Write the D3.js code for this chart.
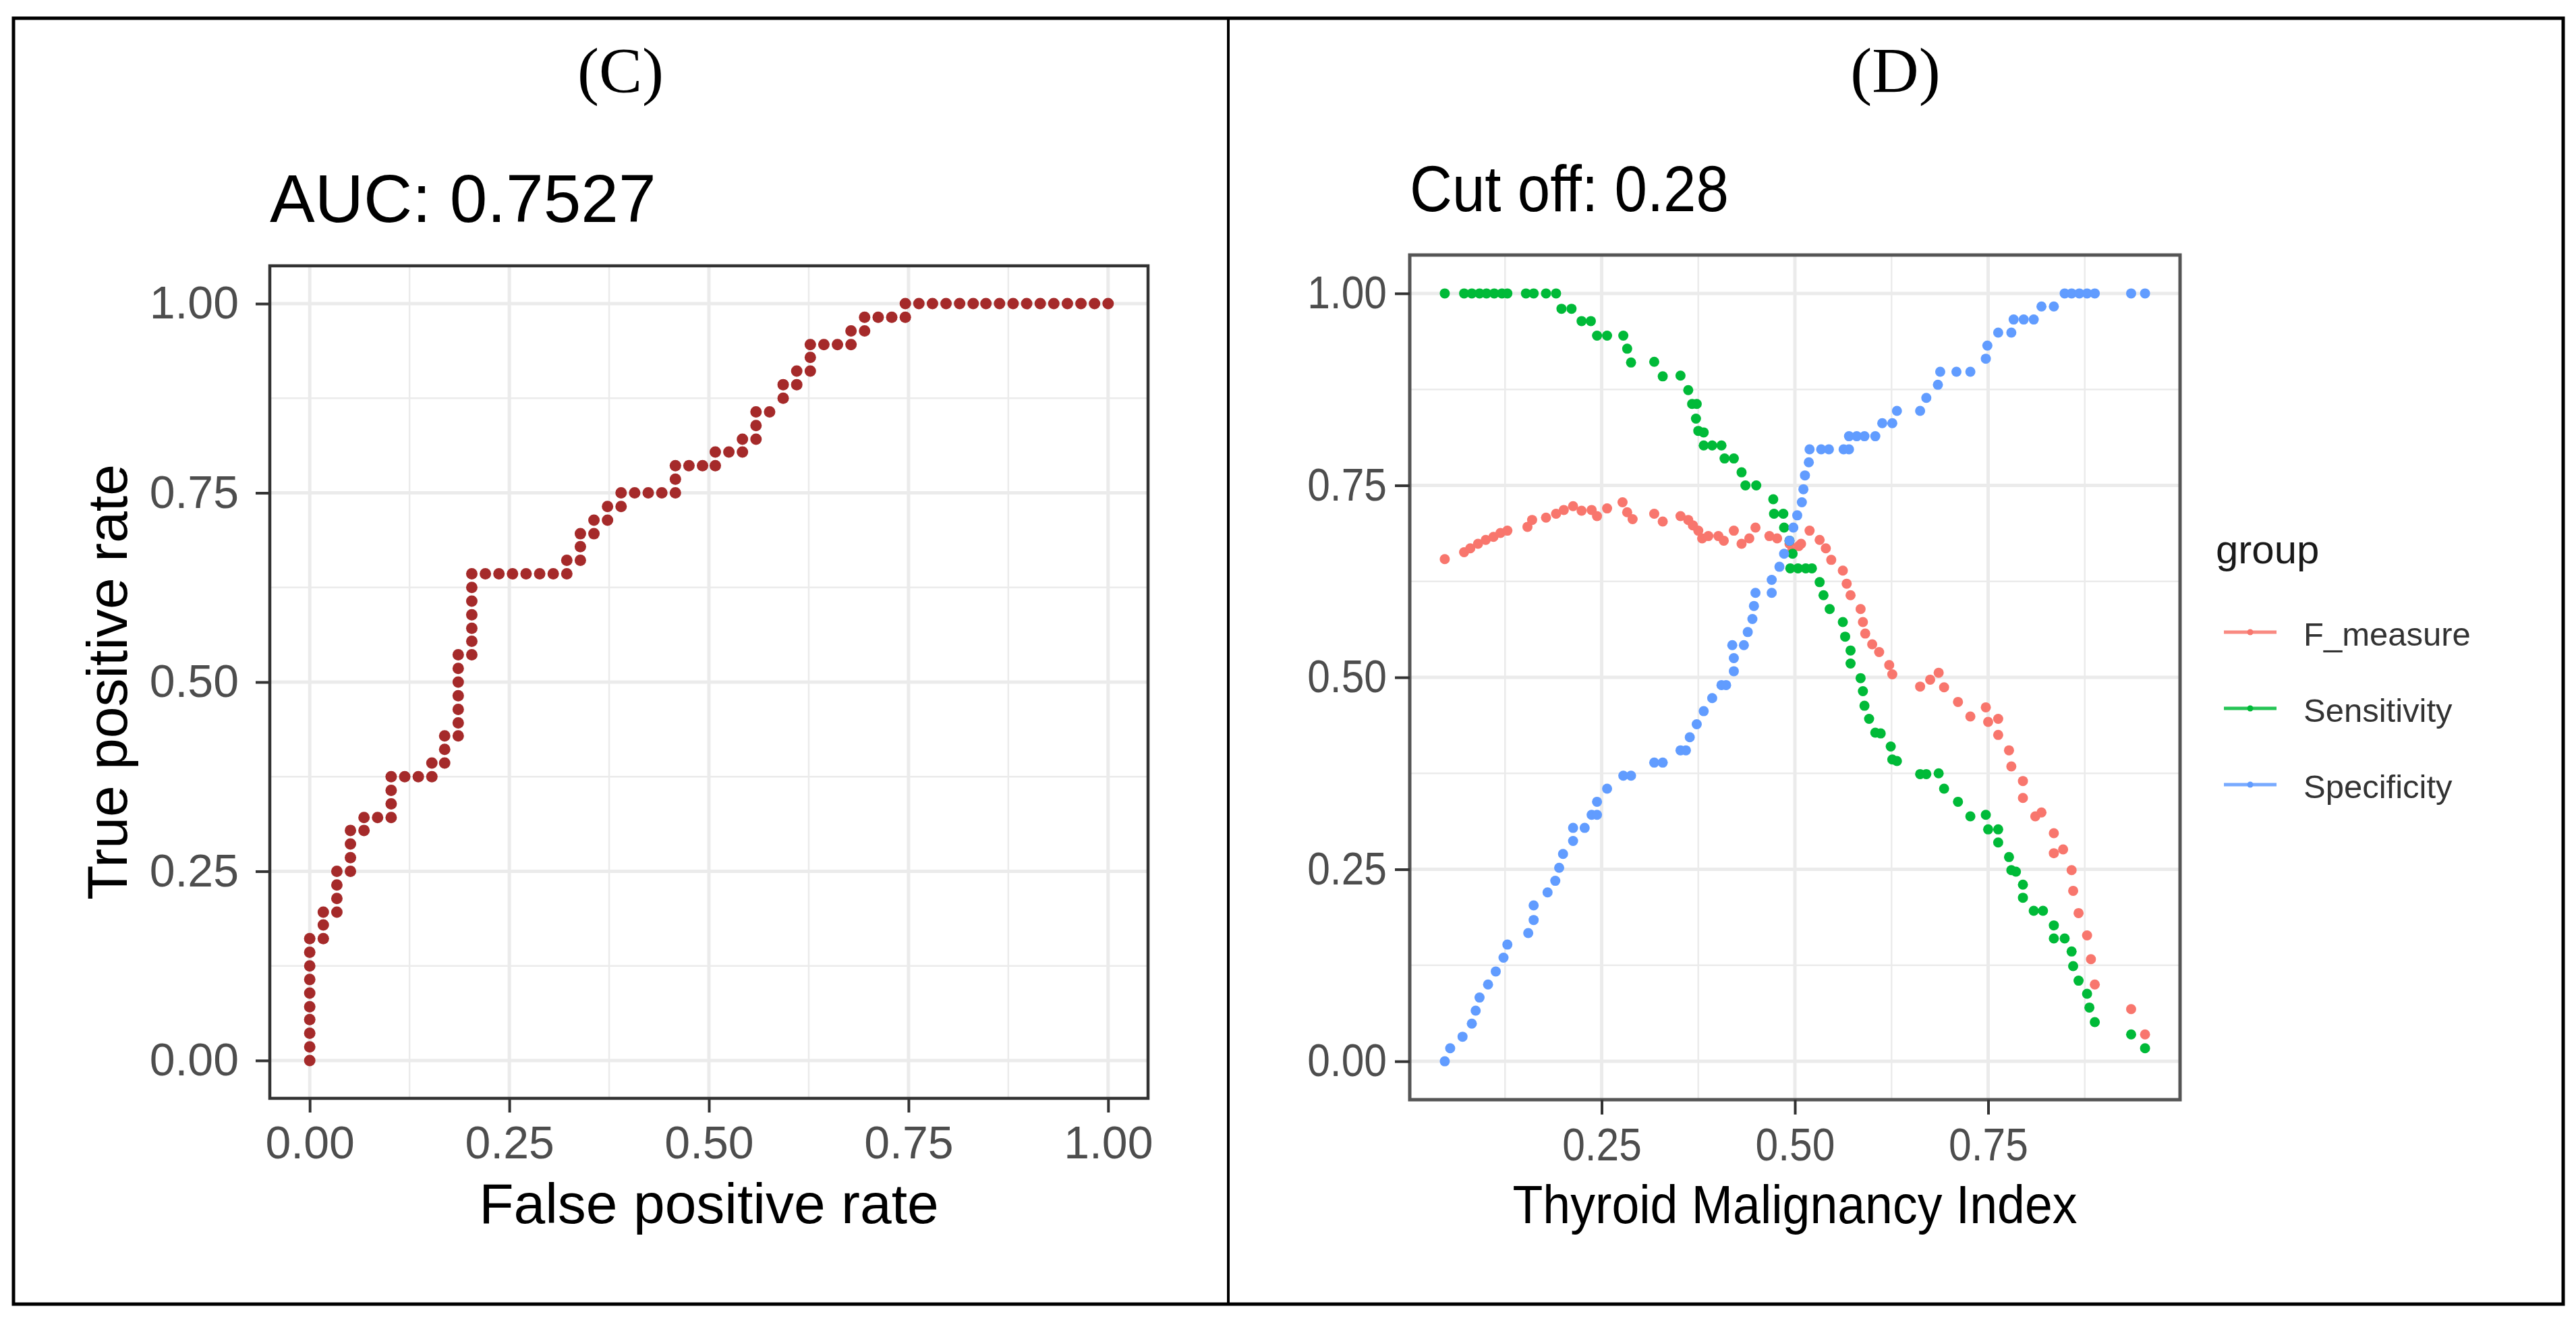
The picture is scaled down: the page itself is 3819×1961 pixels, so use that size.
<!DOCTYPE html>
<html>
<head>
<meta charset="utf-8">
<script src="https://cdn.jsdelivr.net/npm/d3@7"></script>
<style>
  body { margin: 0; background: #fff; }
  text { font-family: "Liberation Sans", Arial, sans-serif; }
</style>
</head>
<body>
<div id="chart"></div>
<script>
// (C) ROC curve points
let rocFpr = [
  0,0,0,0,0,0,0,0,0,0,
  .017,.017,.017,
  .034,.034,.034,.034,
  .051,.051,.051,.051,
  .068,.068,
  .085,
  .102,.102,.102,.102,
  .119,
  .136,
  .153,.153,
  .169,.169,.169,
  .186,.186,.186,.186,.186,.186,.186,
  .203,.203,.203,.203,.203,.203,.203,
  .220,.237,.254,.271,.288,.305,
  .322,.322,
  .339,.339,.339,
  .356,.356,
  .373,.373,
  .390,.390,
  .407,.424,.441,
  .458,.458,.458,
  .475,.492,
  .508,.508,
  .525,
  .542,.542,
  .559,.559,.559,
  .576,
  .593,.593,
  .610,.610,
  .627,.627,.627,
  .644,.661,
  .678,.678,
  .695,.695,
  .712,.729,
  .746,.746,
  .763,.780,.797,.814,.831,.847,.864,.881,.898,.915,.932,.949,.966,.983,1
];
let rocTpr = [
  0,.018,.036,.054,.071,.089,.107,.125,.143,.161,
  .161,.179,.196,
  .196,.214,.232,.25,
  .25,.268,.286,.304,
  .304,.321,
  .321,
  .321,.339,.357,.375,
  .375,
  .375,
  .375,.393,
  .393,.411,.429,
  .429,.446,.464,.482,.5,.518,.536,
  .536,.554,.571,.589,.607,.625,.643,
  .643,.643,.643,.643,.643,.643,
  .643,.661,
  .661,.679,.696,
  .696,.714,
  .714,.732,
  .732,.75,
  .75,.75,.75,
  .75,.768,.786,
  .786,.786,
  .786,.804,
  .804,
  .804,.821,
  .821,.839,.857,
  .857,
  .875,.893,
  .893,.911,
  .911,.929,.946,
  .946,.946,
  .946,.964,
  .964,.982,
  .982,.982,
  .982,1,
  1,1,1,1,1,1,1,1,1,1,1,1,1,1,1
];
let rocTicks = [0, 0.25, 0.5, 0.75, 1];

// (D) cut-off curves
let fX = [.047,.072,.080,.090,.100,.110,.119,.128,.154,.160,.178,.191,.201,.213,.224,.237,.244,.257,.277,.283,.290,
  .318,.329,.352,.362,.368,.375,.380,.388,.401,.408,.421,.431,.441,.449,.467,.477,.493,.496,.505,.508,.519,
  .532,.540,.547,.562,.567,.572,.585,.588,.591,.600,.609,.622,.626,.662,.675,.686,.693,.711,.727,.747,.750,
  .763,.763,.777,.780,.795,.795,.811,.819,.835,.835,.847,.858,.860,.867,.878,.883,.888,.935,.953];
let fY = [.654,.663,.668,.674,.679,.683,.688,.691,.696,.705,.708,.713,.718,.723,.717,.718,.710,.720,.728,.715,.706,
  .713,.703,.710,.705,.698,.691,.681,.684,.684,.678,.691,.674,.681,.695,.684,.681,.674,.664,.671,.674,.691,
  .679,.668,.653,.639,.622,.607,.589,.572,.557,.543,.533,.516,.504,.488,.497,.506,.487,.468,.449,.461,.442,
  .446,.425,.405,.384,.365,.343,.319,.324,.297,.271,.276,.249,.222,.193,.164,.133,.100,.068,.035];

let sensX = [.047,.072,.082,.092,.101,.111,.121,.128,.152,.162,.178,.191,.198,.211,.224,.236,.244,.257,.278,.283,
  .288,.318,.329,.352,.362,.367,.373,.372,.375,.382,.382,.393,.405,.409,.421,.431,.436,.450,.472,.473,.485,
  .486,.493,.497,.494,.504,.514,.522,.532,.537,.545,.562,.565,.572,.572,.585,.588,.590,.596,.604,.611,.624,
  .626,.632,.662,.670,.686,.693,.711,.727,.747,.750,.763,.763,.777,.780,.786,.795,.795,.809,.821,.835,.835,
  .849,.858,.860,.867,.878,.881,.888,.935,.953];
let sensY = [1,1,1,1,1,1,1,1,1,1,1,1,.980,.980,.964,.964,.945,.945,.945,.928,
  .910,.911,.892,.893,.874,.856,.856,.837,.821,.819,.802,.802,.802,.785,.785,.767,.750,.750,.732,.713,.713,
  .695,.678,.661,.642,.642,.642,.642,.624,.607,.589,.572,.553,.535,.518,.499,.482,.463,.446,.428,.427,.410,
  .393,.391,.374,.374,.375,.355,.338,.319,.321,.302,.302,.285,.266,.249,.247,.230,.213,.196,.196,.177,.160,
  .160,.143,.124,.105,.088,.070,.051,.035,.017];

let specX = [.047,.054,.070,.082,.087,.092,.103,.113,.123,.128,.155,.162,.162,.180,.190,.195,.200,.213,.213,.228,
  .237,.244,.244,.257,.278,.288,.318,.329,.352,.359,.364,.373,.382,.393,.405,.411,.421,.421,.419,.434,.439,
  .445,.447,.449,.470,.470,.480,.486,.493,.498,.503,.509,.511,.513,.518,.519,.534,.544,.563,.570,.570,.580,
  .590,.604,.613,.626,.632,.662,.670,.685,.688,.709,.727,.747,.749,.763,.780,.783,.796,.809,.819,.835,.849,
  .858,.868,.878,.888,.935,.953];
let specY = [0,.017,.032,.049,.066,.083,.100,.117,.135,.152,.167,.184,.203,.220,.235,.252,.270,.287,.304,.304,
  .321,.321,.338,.355,.372,.372,.389,.389,.405,.405,.422,.439,.456,.473,.490,.490,.508,.525,.542,.542,.559,
  .576,.593,.610,.610,.627,.644,.661,.678,.695,.711,.728,.745,.763,.780,.797,.797,.797,.797,.797,.814,.814,
  .814,.814,.831,.831,.847,.847,.864,.881,.898,.898,.898,.915,.932,.949,.949,.966,.966,.966,.983,.983,1,
  1,1,1,1,1,1];

let groups = ["F_measure", "Sensitivity", "Specificity"];
let groupColors = ["#F8766D", "#00BA38", "#619CFF"];
let cutTicks = [0.25, 0.5, 0.75];
let cutYTicks = [0, 0.25, 0.5, 0.75, 1];

let svg = d3.select("#chart")
  .append("svg")
    .attr("width", 3819)
    .attr("height", 1961);

svg.append("rect")
  .attr("width", 3819).attr("height", 1961).attr("fill", "#fff");

// outer frame with two cells
svg.append("rect")
  .attr("x", 20).attr("y", 27)
  .attr("width", 3780).attr("height", 1906)
  .attr("fill", "none").attr("stroke", "#000").attr("stroke-width", 5);
svg.append("line")
  .attr("x1", 1821).attr("x2", 1821).attr("y1", 27).attr("y2", 1933)
  .attr("stroke", "#000").attr("stroke-width", 4);

svg.append("text")
  .attr("x", 920).attr("y", 137)
  .attr("text-anchor", "middle")
  .style("font-family", "'Liberation Serif', 'Times New Roman', serif")
  .style("font-size", "96px")
  .text("(C)");
svg.append("text")
  .attr("x", 2810).attr("y", 137)
  .attr("text-anchor", "middle")
  .style("font-family", "'Liberation Serif', 'Times New Roman', serif")
  .style("font-size", "96px")
  .text("(D)");

function expanded(values) {
  let ext = d3.extent(values);
  let pad = (ext[1] - ext[0]) * 0.05;
  return [ext[0] - pad, ext[1] + pad];
}

function drawGrid(g, x, y, xMajor, yMajor, xMinor, yMinor, w, h) {
  g.selectAll(".vminor").data(xMinor).enter().append("line")
    .attr("x1", d => x(d)).attr("x2", d => x(d)).attr("y1", 0).attr("y2", h)
    .attr("stroke", "#EBEBEB").attr("stroke-width", 2.5);
  g.selectAll(".hminor").data(yMinor).enter().append("line")
    .attr("y1", d => y(d)).attr("y2", d => y(d)).attr("x1", 0).attr("x2", w)
    .attr("stroke", "#EBEBEB").attr("stroke-width", 2.5);
  g.selectAll(".vmajor").data(xMajor).enter().append("line")
    .attr("x1", d => x(d)).attr("x2", d => x(d)).attr("y1", 0).attr("y2", h)
    .attr("stroke", "#EBEBEB").attr("stroke-width", 5);
  g.selectAll(".hmajor").data(yMajor).enter().append("line")
    .attr("y1", d => y(d)).attr("y2", d => y(d)).attr("x1", 0).attr("x2", w)
    .attr("stroke", "#EBEBEB").attr("stroke-width", 5);
}

function styleAxis(a, squeeze) {
  a.select(".domain").remove();
  a.selectAll(".tick line").attr("stroke", "#333").attr("stroke-width", 4);
  a.selectAll(".tick text")
    .attr("fill", "#4D4D4D")
    .style("font-size", "68px")
    .each(function () {
      if (squeeze) {
        let w = this.getComputedTextLength();
        d3.select(this).attr("textLength", w * squeeze).attr("lengthAdjust", "spacingAndGlyphs");
      }
    });
}

// ---------- (C) ROC ----------
let cW = 1302, cH = 1234;
let c = svg.append("g").attr("transform", "translate(400,394)");
let xc = d3.scaleLinear().domain(expanded(rocFpr)).range([0, cW]);
let yc = d3.scaleLinear().domain(expanded(rocTpr)).range([cH, 0]);

drawGrid(c, xc, yc, rocTicks, rocTicks,
  [0.125, 0.375, 0.625, 0.875], [0.125, 0.375, 0.625, 0.875], cW, cH);

c.append("g")
  .selectAll("circle")
  .data(rocFpr)
  .enter()
  .append("circle")
    .attr("cx", d => xc(d))
    .attr("cy", (d, i) => yc(rocTpr[i]))
    .attr("r", 8.5)
    .attr("fill", "#A52A2A");

c.append("rect")
  .attr("width", cW).attr("height", cH)
  .attr("fill", "none").attr("stroke", "#333").attr("stroke-width", 4.5);

let cxAxis = c.append("g")
  .attr("transform", "translate(0," + cH + ")")
  .call(d3.axisBottom(xc).tickValues(rocTicks).tickFormat(d3.format(".2f")).tickSize(21).tickPadding(20));
styleAxis(cxAxis);
let cyAxis = c.append("g")
  .call(d3.axisLeft(yc).tickValues(rocTicks).tickFormat(d3.format(".2f")).tickSize(21).tickPadding(25));
styleAxis(cyAxis);

svg.append("text")
  .attr("x", 400).attr("y", 329)
  .style("font-size", "100px")
  .text("AUC: 0.7527");
svg.append("text")
  .attr("x", 400 + xc(0.5)).attr("y", 1813)
  .attr("text-anchor", "middle")
  .style("font-size", "84px")
  .text("False positive rate");
svg.append("text")
  .attr("transform", "translate(188," + (394 + yc(0.5)) + ") rotate(-90)")
  .attr("text-anchor", "middle")
  .style("font-size", "84px")
  .text("True positive rate");

// ---------- (D) cut-off ----------
let dW = 1142, dH = 1252;
let d = svg.append("g").attr("transform", "translate(2090,378)");
let xd = d3.scaleLinear().domain(expanded(fX.concat(sensX, specX))).range([0, dW]);
let yd = d3.scaleLinear().domain(expanded(fY.concat(sensY, specY))).range([dH, 0]);

drawGrid(d, xd, yd, cutTicks, cutYTicks,
  [0.125, 0.375, 0.625, 0.875], [0.125, 0.375, 0.625, 0.875], dW, dH);

let series = [[fX, fY], [sensX, sensY], [specX, specY]];
series.forEach((s, k) => {
  d.append("g")
    .selectAll("circle")
    .data(s[0])
    .enter()
    .append("circle")
      .attr("cx", v => xd(v))
      .attr("cy", (v, i) => yd(s[1][i]))
      .attr("r", 7.5)
      .attr("fill", groupColors[k]);
});

d.append("rect")
  .attr("width", dW).attr("height", dH)
  .attr("fill", "none").attr("stroke", "#555").attr("stroke-width", 5);

let dxAxis = d.append("g")
  .attr("transform", "translate(0," + dH + ")")
  .call(d3.axisBottom(xd).tickValues(cutTicks).tickFormat(d3.format(".2f")).tickSize(22).tickPadding(20));
styleAxis(dxAxis, 0.89);
let dyAxis = d.append("g")
  .call(d3.axisLeft(yd).tickValues(cutYTicks).tickFormat(d3.format(".2f")).tickSize(22).tickPadding(12));
styleAxis(dyAxis, 0.89);

svg.append("text")
  .attr("x", 2090).attr("y", 313)
  .attr("textLength", 473).attr("lengthAdjust", "spacingAndGlyphs")
  .style("font-size", "96px")
  .text("Cut off: 0.28");
svg.append("text")
  .attr("x", 2090 + xd(0.5)).attr("y", 1813)
  .attr("text-anchor", "middle")
  .attr("textLength", 837).attr("lengthAdjust", "spacingAndGlyphs")
  .style("font-size", "80px")
  .text("Thyroid Malignancy Index");

// legend
let legend = svg.append("g").attr("transform", "translate(3285,835)");
legend.append("text")
  .attr("fill", "#1a1a1a")
  .style("font-size", "60px")
  .text("group");
let items = legend.selectAll(".item")
  .data(groups)
  .enter()
  .append("g")
    .attr("transform", (g, i) => "translate(0," + (102 + i * 113) + ")");
items.append("line")
  .attr("x1", 12).attr("x2", 90)
  .attr("stroke", (g, i) => groupColors[i])
  .attr("stroke-width", 5)
  .attr("opacity", 0.85);
items.append("circle")
  .attr("cx", 51).attr("r", 4.5)
  .attr("fill", (g, i) => groupColors[i]);
items.append("text")
  .attr("x", 130).attr("y", 20)
  .attr("fill", "#333")
  .style("font-size", "49px")
  .text(g => g);
</script>
</body>
</html>
